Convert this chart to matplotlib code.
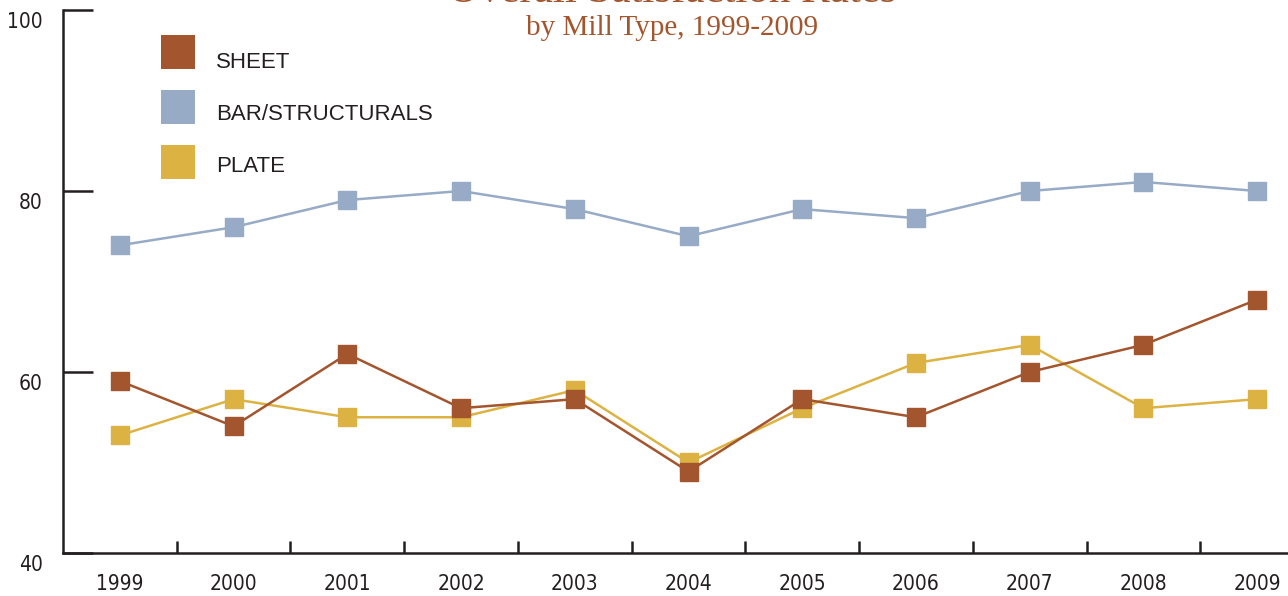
import matplotlib.pyplot as plt
from matplotlib.patches import Rectangle
from matplotlib.transforms import ScaledTranslation, blended_transform_factory

# Satisfaction rates by mill type
years = ['1999', '2000', '2001', '2002', '2003', '2004', '2005', '2006', '2007', '2008', '2009']
sheet = [59, 54, 62, 56, 57, 49, 57, 55, 60, 63, 68]
bar_structurals = [74, 76, 79, 80, 78, 75, 78, 77, 80, 81, 80]
plate = [53, 57, 55, 55, 58, 50, 56, 61, 63, 56, 57]
y_ticks = [40, 60, 80, 100]

SHEET_C = '#a3552e'
BAR_C = '#97abc6'
PLATE_C = '#dcb343'
TITLE_C = '#a3552e'
AXIS_C = '#231f20'

legend_font = ['Liberation Sans', 'DejaVu Sans']
title_font = ['Liberation Serif', 'DejaVu Serif']
# condensed face for axis numbers
label_kw = dict(fontsize=15, family='DejaVu Sans', stretch='condensed', color=AXIS_C)

fig = plt.figure(figsize=(12.88, 5.96), dpi=100)
ax = fig.add_axes([63 / 1288, 1 - 553 / 596, 1251 / 1288, 543 / 596])

x = list(range(len(years)))
line_kw = dict(marker='s', markersize=12.5, linewidth=1.8, clip_on=False)
ax.plot(x, bar_structurals, color=BAR_C, zorder=3, **line_kw)
ax.plot(x, plate, color=PLATE_C, zorder=4, **line_kw)
ax.plot(x, sheet, color=SHEET_C, zorder=5, **line_kw)

ax.set_xlim(-0.5, len(years) - 0.5)
ax.set_ylim(40, 100)

for side in ['top', 'right']:
    ax.spines[side].set_visible(False)
for side in ['left', 'bottom']:
    ax.spines[side].set_color(AXIS_C)
    ax.spines[side].set_linewidth(1.8)

# x axis: labels at years, short inward ticks between years
ax.set_xticks(x)
ax.set_xticklabels(years, **label_kw)
ax.set_xticks([i + 0.5 for i in x[:-1]], minor=True)
ax.tick_params(axis='x', which='major', length=0, pad=15)
ax.tick_params(axis='x', which='minor', direction='in', length=9, width=1.8, color=AXIS_C)

# y axis: long inward ticks, labels set a little below each tick
ax.set_yticks(y_ticks)
ax.set_yticklabels([])
ax.tick_params(axis='y', direction='in', length=21.5, width=1.8, color=AXIS_C)
ytrans = blended_transform_factory(ax.transAxes, ax.transData) + \
    ScaledTranslation(-20 / 100, -12 / 100, fig.dpi_scale_trans)
for v in y_ticks:
    ax.text(0, v, str(v), transform=ytrans, ha='right', va='center', **label_kw)

# legend as coloured squares with labels
legend_items = [('SHEET', SHEET_C), ('BAR/STRUCTURALS', BAR_C), ('PLATE', PLATE_C)]
for i, (name, col) in enumerate(legend_items):
    cy = 52 + i * 55
    fig.patches.append(Rectangle((161 / 1288, 1 - (cy + 17) / 596), 34 / 1288, 34 / 596,
                                 transform=fig.transFigure, facecolor=col, edgecolor='none'))
    fig.text(216 / 1288, 1 - (62 + i * 52.5) / 596, name, ha='left', va='center',
             fontsize=16, family=legend_font, color=AXIS_C)

# titles (top line runs off the top edge, as in the source)
fig.text(672 / 1288, 1 - 1.5 / 596, 'Overall Satisfaction Rates', ha='center', va='baseline',
         fontsize=31, family=title_font, color=TITLE_C)
fig.text(672 / 1288, 1 - 28 / 596, 'by Mill Type, 1999-2009', ha='center', va='center',
         fontsize=21, family=title_font, color=TITLE_C)

fig.savefig('out.png', dpi=100)
